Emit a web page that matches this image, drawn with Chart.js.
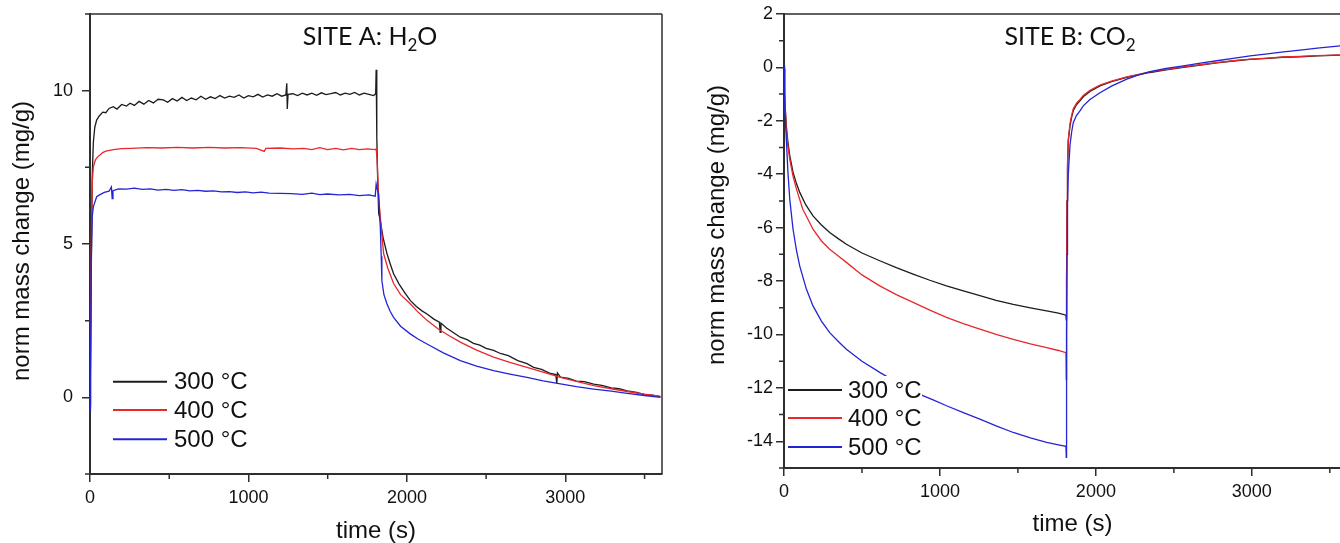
<!DOCTYPE html>
<html><head><meta charset="utf-8">
<script src="https://cdn.jsdelivr.net/npm/chart.js@4.4.1/dist/chart.umd.min.js"></script>
<style>
html,body{margin:0;padding:0;background:#fff;overflow:hidden;width:1340px;height:543px;position:relative;}
#wrapA{position:absolute;left:0;top:0;width:680px;height:543px;}
#wrapB{position:absolute;left:690px;top:0;width:680px;height:543px;}
</style></head><body>
<div id="wrapA"><canvas id="cA" width="680" height="543"></canvas></div>
<div id="wrapB"><canvas id="cB" width="680" height="543"></canvas></div>
<script>
// ---------------- DATA ----------------
const seriesLabels = ['300 °C', '400 °C', '500 °C'];
const xTitle = 'time (s)';
const yTitle = 'norm mass change (mg/g)';
const titleA = ['SITE A: H', '2', 'O'];
const titleB = ['SITE B: CO', '2', ''];

const xMajorA = [0, 1000, 2000, 3000];
const xMinorA = [500, 1500, 2500, 3500];
const yMajorA = [0, 5, 10];
const yMinorA = [-2.5, 2.5, 7.5, 12.5];

const xMajorB = [0, 1000, 2000, 3000];
const xMinorB = [500, 1500, 2500, 3500];
const yMajorB = [-14, -12, -10, -8, -6, -4, -2, 0, 2];
const yMinorB = [-15, -13, -11, -9, -7, -5, -3, -1, 1];

// Site A, H2O  [time s, mass mg/g]
const siteA300 = [[0,-0.3],[3,0.5],[8,4.0],[14,7.2],[21,8.3],[30,8.8],[42,9.04],[55,9.15],[63,9.2],[80,9.3],[100,9.28],[120,9.42],[147,9.48],[170,9.40],[200,9.55],[230,9.50],[253,9.59],[280,9.52],[310,9.65],[340,9.56],[370,9.68],[400,9.60],[430,9.72],[463,9.70],[490,9.62],[520,9.74],[550,9.66],[580,9.78],[610,9.68],[640,9.76],[670,9.70],[700,9.82],[730,9.72],[760,9.80],[790,9.74],[820,9.84],[850,9.76],[880,9.82],[910,9.78],[940,9.86],[970,9.76],[1000,9.84],[1030,9.80],[1060,9.88],[1090,9.79],[1120,9.86],[1150,9.82],[1180,9.90],[1210,9.82],[1236,9.86],[1242,10.24],[1245,9.40],[1250,9.88],[1280,9.90],[1310,9.84],[1340,9.92],[1370,9.86],[1400,9.92],[1430,9.85],[1460,9.93],[1490,9.87],[1520,9.90],[1550,9.94],[1580,9.86],[1610,9.92],[1640,9.88],[1670,9.94],[1700,9.86],[1730,9.92],[1760,9.88],[1790,9.84],[1803,9.90],[1806,10.68],[1810,8.5],[1816,7.0],[1822,6.0],[1832,5.77],[1850,5.2],[1874,4.69],[1895,4.35],[1916,4.03],[1950,3.70],[1985,3.42],[2021,3.16],[2060,2.96],[2095,2.82],[2127,2.72],[2170,2.55],[2205,2.45],[2210,2.12],[2215,2.42],[2250,2.26],[2290,2.12],[2337,1.96],[2380,1.88],[2420,1.76],[2460,1.70],[2500,1.60],[2547,1.53],[2590,1.43],[2640,1.36],[2700,1.20],[2758,1.10],[2800,0.98],[2850,0.91],[2900,0.79],[2940,0.74],[2946,0.45],[2950,0.80],[2969,0.66],[3020,0.62],[3070,0.53],[3120,0.51],[3179,0.43],[3230,0.39],[3290,0.31],[3340,0.28],[3390,0.21],[3450,0.16],[3500,0.09],[3550,0.07],[3600,0.02]];
const siteA400 = [[0,-0.2],[3,1.0],[8,5.0],[14,7.0],[21,7.52],[35,7.75],[50,7.85],[63,7.9],[80,7.98],[100,8.03],[147,8.08],[200,8.11],[260,8.12],[358,8.14],[450,8.13],[550,8.15],[650,8.13],[750,8.15],[850,8.13],[950,8.14],[1050,8.12],[1100,8.02],[1110,8.12],[1200,8.13],[1280,8.10],[1350,8.12],[1400,8.08],[1450,8.14],[1500,8.08],[1550,8.12],[1600,8.07],[1650,8.12],[1700,8.08],[1750,8.10],[1800,8.08],[1806,8.10],[1812,7.74],[1821,6.6],[1832,5.88],[1842,5.3],[1853,4.69],[1880,4.2],[1916,3.71],[1960,3.35],[2021,3.05],[2070,2.78],[2127,2.51],[2200,2.22],[2270,2.0],[2337,1.80],[2440,1.54],[2547,1.31],[2650,1.14],[2758,0.98],[2860,0.82],[2969,0.65],[3070,0.52],[3179,0.38],[3290,0.28],[3390,0.19],[3500,0.10],[3600,0.03]];
const siteA500 = [[0,-0.45],[3,0.8],[8,4.5],[14,5.9],[21,6.21],[30,6.35],[42,6.54],[60,6.6],[90,6.68],[120,6.72],[135,6.86],[140,6.48],[145,6.74],[180,6.80],[230,6.79],[280,6.82],[330,6.78],[380,6.80],[430,6.76],[480,6.78],[530,6.75],[580,6.77],[630,6.73],[680,6.75],[730,6.72],[779,6.73],[830,6.70],[880,6.71],[930,6.68],[980,6.70],[1030,6.67],[1080,6.69],[1130,6.66],[1200,6.65],[1270,6.64],[1340,6.62],[1400,6.66],[1450,6.61],[1500,6.63],[1570,6.60],[1640,6.62],[1700,6.58],[1760,6.60],[1800,6.56],[1806,6.95],[1812,6.8],[1821,6.65],[1832,5.56],[1838,4.6],[1842,3.81],[1855,3.35],[1874,3.05],[1895,2.8],[1916,2.61],[1960,2.32],[2021,2.07],[2070,1.90],[2127,1.74],[2230,1.45],[2337,1.20],[2440,1.02],[2547,0.87],[2650,0.76],[2758,0.65],[2860,0.54],[2969,0.44],[3070,0.35],[3179,0.27],[3290,0.20],[3390,0.13],[3500,0.06],[3600,0.0]];

// Site B, CO2  [time s, mass mg/g]
const siteB300 = [[0,-0.07],[4,-0.9],[8,-1.5],[15,-2.20],[25,-2.8],[37,-3.3],[58,-3.93],[80,-4.35],[101,-4.68],[140,-5.15],[186,-5.56],[240,-5.9],[293,-6.18],[350,-6.42],[400,-6.62],[500,-6.95],[614,-7.24],[720,-7.50],[828,-7.74],[935,-7.97],[1042,-8.18],[1150,-8.37],[1256,-8.55],[1360,-8.72],[1470,-8.87],[1580,-9.00],[1684,-9.12],[1760,-9.20],[1808,-9.28],[1810,-9.45],[1812,-8.0],[1815,-5.0],[1818,-3.8],[1823,-2.75],[1834,-2.19],[1845,-1.85],[1855,-1.62],[1875,-1.40],[1898,-1.25],[1919,-1.10],[1962,-0.90],[2026,-0.69],[2100,-0.53],[2198,-0.37],[2270,-0.28],[2347,-0.19],[2450,-0.09],[2561,0.0],[2670,0.09],[2775,0.17],[2880,0.24],[2989,0.30],[3100,0.34],[3200,0.38],[3310,0.40],[3420,0.43],[3566,0.46],[3600,0.47]];
const siteB400 = [[0,-0.05],[4,-1.0],[8,-1.6],[15,-2.32],[25,-2.95],[37,-3.44],[58,-4.08],[80,-4.56],[120,-5.3],[186,-6.06],[240,-6.5],[293,-6.81],[350,-7.07],[400,-7.30],[500,-7.77],[614,-8.18],[720,-8.51],[828,-8.80],[935,-9.09],[1042,-9.36],[1150,-9.59],[1256,-9.80],[1360,-10.0],[1470,-10.18],[1580,-10.35],[1684,-10.49],[1760,-10.60],[1808,-10.68],[1810,-11.68],[1812,-8.0],[1815,-5.0],[1818,-3.6],[1823,-2.70],[1834,-2.10],[1845,-1.78],[1855,-1.55],[1875,-1.35],[1898,-1.20],[1919,-1.05],[1962,-0.86],[2026,-0.66],[2100,-0.51],[2198,-0.35],[2347,-0.17],[2450,-0.07],[2561,0.02],[2670,0.10],[2775,0.18],[2880,0.25],[2989,0.31],[3100,0.35],[3200,0.39],[3310,0.41],[3420,0.44],[3566,0.47],[3600,0.48]];
const siteB500 = [[0,0.06],[4,-1.44],[8,-1.9],[15,-2.69],[25,-3.9],[37,-4.94],[58,-6.06],[80,-6.85],[101,-7.44],[144,-8.31],[186,-8.93],[240,-9.5],[293,-9.93],[350,-10.27],[400,-10.55],[500,-11.0],[614,-11.42],[740,-11.85],[871,-12.24],[960,-12.46],[1042,-12.67],[1150,-12.93],[1256,-13.17],[1360,-13.42],[1470,-13.67],[1580,-13.87],[1684,-14.04],[1760,-14.13],[1808,-14.19],[1810,-14.6],[1812,-10.0],[1815,-7.0],[1818,-5.0],[1823,-4.0],[1834,-2.9],[1845,-2.4],[1855,-2.07],[1875,-1.80],[1898,-1.63],[1919,-1.44],[1962,-1.20],[2026,-0.95],[2100,-0.70],[2198,-0.44],[2270,-0.29],[2347,-0.16],[2450,-0.04],[2561,0.06],[2670,0.16],[2775,0.25],[2880,0.34],[2989,0.43],[3100,0.51],[3203,0.58],[3310,0.65],[3420,0.72],[3566,0.81],[3600,0.83]];

// ---------------- RENDERING ----------------
const colors = ['#1c1c1c', '#e8282b', '#2424d6'];
const axisColor = '#2e2e2e';
const FONT = "'Liberation Sans', Arial, sans-serif";
Chart.defaults.font.family = FONT;
Chart.defaults.color = '#111';

const toXY = arr => arr.map(p => ({x: p[0], y: p[1]}));

const framePlugin = {
  id: 'frame',
  afterDraw(chart, args, opts) {
    const ca = chart.chartArea, ctx = chart.ctx;
    const xs = chart.scales.x, ys = chart.scales.y;
    ctx.save();
    ctx.strokeStyle = axisColor;
    ctx.lineWidth = 1.5;
    ctx.beginPath();
    ctx.moveTo(ca.left, ca.top); ctx.lineTo(ca.right, ca.top);
    ctx.moveTo(ca.right, ca.top); ctx.lineTo(ca.right, ca.bottom);
    opts.xMinor.forEach(v => { const p = xs.getPixelForValue(v); ctx.moveTo(p, ca.bottom); ctx.lineTo(p, ca.bottom + 5); });
    opts.yMinor.forEach(v => { const p = ys.getPixelForValue(v); ctx.moveTo(ca.left, p); ctx.lineTo(ca.left - 5, p); });
    ctx.stroke();
    // title with subscript
    const t = opts.title;
    ctx.fillStyle = '#111';
    ctx.textBaseline = 'alphabetic';
    ctx.textAlign = 'left';
    const big = "25px Lato, 'Open Sans', sans-serif", small = "17px Lato, 'Open Sans', sans-serif";
    ctx.font = big; const w1 = ctx.measureText(t[0]).width, w3 = ctx.measureText(t[2]).width;
    ctx.font = small; const w2 = ctx.measureText(t[1]).width;
    let x = opts.titleX - (w1 + w2 + w3) / 2;
    ctx.font = big; ctx.fillText(t[0], x, opts.titleY); x += w1;
    ctx.font = small; ctx.fillText(t[1], x, opts.titleY + 6); x += w2;
    ctx.font = big; ctx.fillText(t[2], x, opts.titleY);
    // y axis title (rotated)
    ctx.translate(opts.yTitleX, opts.yTitleY);
    ctx.rotate(-Math.PI / 2);
    ctx.font = "24px " + FONT;
    ctx.textAlign = 'center';
    ctx.textBaseline = 'middle';
    ctx.fillText(yTitle, 0, 0);
    ctx.restore();
  },
  afterDatasetsDraw(chart, args, opts) {
    const ctx = chart.ctx, L = opts.legend;
    ctx.save();
    ctx.fillStyle = '#fff';
    ctx.fillRect(L.box[0], L.box[1], L.box[2], L.box[3]);
    ctx.font = "24px " + FONT;
    ctx.textBaseline = 'middle';
    chart.data.datasets.forEach((ds, i) => {
      const y = L.rows[i];
      ctx.strokeStyle = ds.borderColor; ctx.lineWidth = 2;
      ctx.beginPath(); ctx.moveTo(L.x0, y); ctx.lineTo(L.x1, y); ctx.stroke();
      ctx.fillStyle = '#111';
      ctx.fillText(ds.label, L.tx, y + 1);
    });
    ctx.restore();
  }
};

function makeChart(id, series, cfg) {
  return new Chart(document.getElementById(id), {
    type: 'line',
    data: {
      datasets: series.map((s, i) => ({
        label: seriesLabels[i], data: toXY(s), borderColor: colors[i], backgroundColor: colors[i],
        borderWidth: 1.3, pointRadius: 0, tension: 0, fill: false, order: 2 - i
      }))
    },
    options: {
      responsive: false, animation: false, devicePixelRatio: 1,
      layout: {padding: cfg.padding},
      plugins: {legend: {display: false}, tooltip: {enabled: false}, frame: cfg.frame},
      scales: {
        x: {
          type: 'linear', min: cfg.xMin, max: cfg.xMax,
          afterBuildTicks: s => { s.ticks = cfg.xMajor.map(v => ({value: v})); },
          afterFit: s => { s.height = cfg.xHeight; s.paddingLeft = 0; s.paddingRight = 0; },
          border: {display: true, color: axisColor, width: 2},
          grid: {drawOnChartArea: false, drawTicks: true, tickLength: 8, color: axisColor, lineWidth: 1.5},
          ticks: {font: {size: 18}, color: '#111', padding: 5, maxRotation: 0, autoSkip: false, callback: v => String(v)},
          title: {display: true, text: xTitle, font: {size: 24, lineHeight: 1}, color: '#111', padding: {top: 0, bottom: cfg.xTitlePad}}
        },
        y: {
          type: 'linear', min: cfg.yMin, max: cfg.yMax,
          afterBuildTicks: s => { s.ticks = cfg.yMajor.map(v => ({value: v})); },
          afterFit: s => { s.width = cfg.yWidth; s.paddingTop = 0; s.paddingBottom = 0; },
          border: {display: true, color: axisColor, width: 2},
          grid: {drawOnChartArea: false, drawTicks: true, tickLength: 8, color: axisColor, lineWidth: 1.5},
          ticks: {font: {size: 18}, color: '#111', padding: cfg.yTickPad, autoSkip: false, callback: v => String(v)},
          title: {display: false}
        }
      }
    },
    plugins: [framePlugin]
  });
}

makeChart('cA', [siteA300, siteA400, siteA500], {
  padding: {left: 0, right: 18, top: 14, bottom: 0},
  xMin: 0, xMax: 3610, yMin: -2.5, yMax: 12.5,
  xMajor: xMajorA, yMajor: yMajorA, xHeight: 69, yWidth: 90,
  xTitlePad: 0, yTickPad: 9,
  frame: {xMinor: xMinorA, yMinor: yMinorA, title: titleA, titleX: 370, titleY: 45,
    yTitleX: 22, yTitleY: 241,
    legend: {box: [96, 367, 160, 86], rows: [381.7, 410, 439.3], x0: 113, x1: 167, tx: 174}}
});

makeChart('cB', [siteB300, siteB400, siteB500], {
  padding: {left: 0, right: 9, top: 14, bottom: 0},
  xMin: 0, xMax: 3700, yMin: -15, yMax: 2,
  xMajor: xMajorB, yMajor: yMajorB, xHeight: 75, yWidth: 94,
  xTitlePad: 7, yTickPad: 3,
  frame: {xMinor: xMinorB, yMinor: yMinorB, title: titleB, titleX: 380, titleY: 45,
    yTitleX: 27, yTitleY: 225,
    legend: {box: [96, 376, 136, 85], rows: [390, 418, 447], x0: 98, x1: 152, tx: 158}}
});
</script>
</body></html>
